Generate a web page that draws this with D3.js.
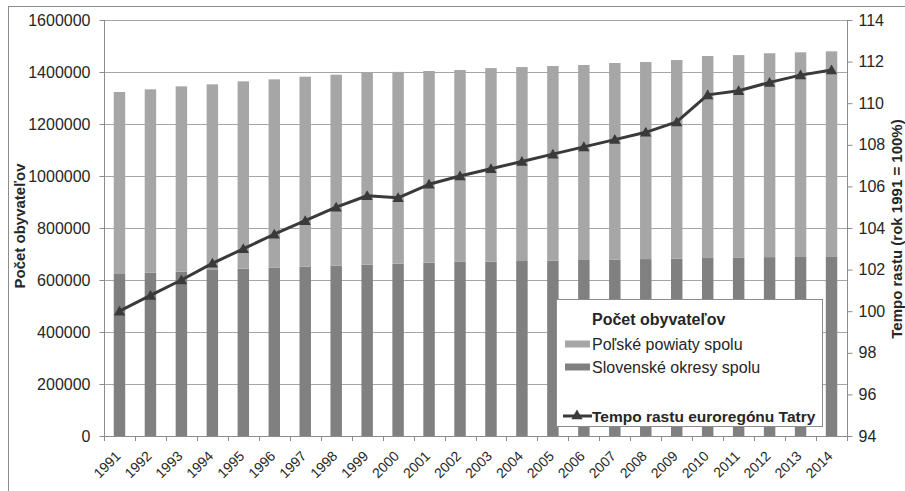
<!DOCTYPE html>
<html lang="sk">
  <head>
    <meta charset="UTF-8" />
    <title>Počet obyvateľov – euroregión Tatry</title>
    <script src="https://cdn.jsdelivr.net/npm/d3@7/dist/d3.min.js"></script>
    <style>
      body { margin: 0; background: #fff; overflow: hidden; }
      text { font-family: "Liberation Sans", Arial, sans-serif; fill: #262626; }
    </style>
  </head>
  <body>
    <script>
      const years = ["1991", "1992", "1993", "1994", "1995", "1996", "1997", "1998",
        "1999", "2000", "2001", "2002", "2003", "2004", "2005", "2006", "2007",
        "2008", "2009", "2010", "2011", "2012", "2013", "2014"];
      const slovak = [623000, 628000, 632000, 641000, 643600, 647000, 651000, 655000,
        659000, 662700, 666600, 670000, 671000, 673000, 674000, 677000, 678000,
        680500, 681500, 684500, 685000, 688000, 688500, 691000];
      const polish = [700000, 705400, 712800, 711500, 720500, 724800, 731000, 734600,
        739600, 737800, 737200, 737700, 744000, 746000, 749000, 750000, 756600,
        757900, 764500, 777000, 780000, 784000, 787200, 788500];
      const tempo = [100.0, 100.76, 101.5, 102.3, 103.0, 103.7, 104.35, 105.0,
        105.55, 105.45, 106.1, 106.5, 106.85, 107.2, 107.55, 107.9, 108.25,
        108.6, 109.1, 110.4, 110.6, 111.0, 111.35, 111.6];
      const leftTicks = [0, 200000, 400000, 600000, 800000, 1000000, 1200000, 1400000, 1600000];
      const rightTicks = [94, 96, 98, 100, 102, 104, 106, 108, 110, 112, 114];

      const width = 905;
      const height = 491;
      const plotL = 104, plotR = 847, plotT = 20, plotB = 436;

      const svg = d3
        .select("body")
        .append("svg")
        .attr("width", width)
        .attr("height", height);

      // ram okolo grafu
      svg.append("rect")
        .attr("x", 8.5).attr("y", 6.5)
        .attr("width", 1000).attr("height", 1000)
        .attr("fill", "none").attr("stroke", "#8c8c8c");

      const x = d3.scaleBand()
        .domain(years)
        .range([plotL, plotR])
        .paddingInner(0.63)
        .paddingOuter(0.315);
      const y = d3.scaleLinear().domain([0, 1600000]).range([plotB, plotT]);
      const y2 = d3.scaleLinear().domain([94, 114]).range([plotB, plotT]);

      // mriežka
      svg.append("g")
        .selectAll("line")
        .data(leftTicks.slice(1))
        .enter()
        .append("line")
        .attr("x1", plotL).attr("x2", plotR)
        .attr("y1", (d) => Math.round(y(d)) + 0.5)
        .attr("y2", (d) => Math.round(y(d)) + 0.5)
        .attr("stroke", "#a6a6a6");

      // stĺpce
      const rows = years.map((yr, i) => ({ year: yr, slovak: slovak[i], polish: polish[i] }));
      const stack = d3.stack().keys(["slovak", "polish"]);
      const colors = { slovak: "#808080", polish: "#a6a6a6" };
      svg.append("g")
        .selectAll("g")
        .data(stack(rows))
        .enter()
        .append("g")
        .attr("fill", (s) => colors[s.key])
        .selectAll("rect")
        .data((s) => s)
        .enter()
        .append("rect")
        .attr("x", (d) => x(d.data.year))
        .attr("width", x.bandwidth())
        .attr("y", (d) => y(d[1]))
        .attr("height", (d) => y(d[0]) - y(d[1]));

      // osi
      const leftAxis = svg.append("g")
        .attr("transform", `translate(${plotL + 0.5},0)`)
        .call(d3.axisLeft(y).tickValues(leftTicks).tickSize(5).tickPadding(9).tickFormat(d3.format("d")));
      const rightAxis = svg.append("g")
        .attr("transform", `translate(${plotR + 0.5},0)`)
        .call(d3.axisRight(y2).tickValues(rightTicks).tickSize(5).tickPadding(6));
      [leftAxis, rightAxis].forEach((g) => {
        g.select(".domain").attr("stroke", "#8c8c8c").attr("d", `M0,${plotT}V${plotB}`);
        g.selectAll(".tick line").attr("stroke", "#8c8c8c");
        g.selectAll(".tick text")
          .attr("fill", "#262626")
          .style("font-family", '"Liberation Sans", Arial, sans-serif')
          .style("font-size", "16px");
      });

      // os x
      const xAxis = svg.append("g");
      xAxis.append("line")
        .attr("x1", plotL).attr("x2", plotR)
        .attr("y1", plotB + 0.5).attr("y2", plotB + 0.5)
        .attr("stroke", "#8c8c8c");
      const bounds = years.map((yr) => x(yr) - x.step() * x.paddingOuter());
      bounds.push(plotR);
      xAxis.selectAll(".xt")
        .data(bounds)
        .enter()
        .append("line")
        .attr("x1", (d) => Math.round(d) + 0.5).attr("x2", (d) => Math.round(d) + 0.5)
        .attr("y1", plotB).attr("y2", plotB + 5)
        .attr("stroke", "#8c8c8c");
      xAxis.selectAll("text")
        .data(years)
        .enter()
        .append("text")
        .attr("transform", (d) => `translate(${x(d) + x.bandwidth() / 2 + 2},457) rotate(-45)`)
        .attr("text-anchor", "end")
        .style("font-size", "14px")
        .text((d) => d);

      // čiara tempa rastu
      const line = d3.line()
        .x((d, i) => x(years[i]) + x.bandwidth() / 2)
        .y((d) => y2(d));
      svg.append("path")
        .datum(tempo)
        .attr("fill", "none")
        .attr("stroke", "#3a3a3a")
        .attr("stroke-width", 3)
        .attr("stroke-linejoin", "round")
        .attr("d", line);
      const tri = d3.symbol().type(d3.symbolTriangle).size(55);
      svg.append("g")
        .selectAll("path")
        .data(tempo)
        .enter()
        .append("path")
        .attr("d", tri)
        .attr("fill", "#3a3a3a")
        .attr("transform", (d, i) => `translate(${x(years[i]) + x.bandwidth() / 2},${y2(d) + 1})`);

      // názvy osí
      svg.append("text")
        .attr("transform", "translate(25,226) rotate(-90)")
        .attr("text-anchor", "middle")
        .style("font-size", "15px")
        .style("font-weight", "bold")
        .text("Počet obyvateľov");
      svg.append("text")
        .attr("transform", "translate(902,229) rotate(-90)")
        .attr("text-anchor", "middle")
        .style("font-size", "15px")
        .style("font-weight", "bold")
        .text("Tempo rastu (rok 1991 = 100%)");

      // legenda
      const legend = svg.append("g");
      legend.append("rect")
        .attr("x", 556.5).attr("y", 299.5)
        .attr("width", 266).attr("height", 127)
        .attr("fill", "#fff").attr("stroke", "#8c8c8c");
      legend.append("text")
        .attr("x", 592).attr("y", 325)
        .style("font-size", "16px").style("font-weight", "bold")
        .text("Počet obyvateľov");
      const items = [
        { label: "Poľské powiaty spolu", color: colors.polish, y: 344 },
        { label: "Slovenské okresy spolu", color: colors.slovak, y: 367 },
      ];
      items.forEach((it) => {
        legend.append("rect")
          .attr("x", 565).attr("y", it.y - 3.5)
          .attr("width", 25).attr("height", 7)
          .attr("fill", it.color);
        legend.append("text")
          .attr("x", 592).attr("y", it.y + 5.5)
          .style("font-size", "16px")
          .text(it.label);
      });
      legend.append("line")
        .attr("x1", 563).attr("x2", 592)
        .attr("y1", 416).attr("y2", 416)
        .attr("stroke", "#3a3a3a").attr("stroke-width", 3);
      legend.append("path")
        .attr("d", tri)
        .attr("fill", "#3a3a3a")
        .attr("transform", "translate(577,416)");
      legend.append("text")
        .attr("x", 592).attr("y", 421.5)
        .style("font-size", "15.5px").style("font-weight", "bold")
        .text("Tempo rastu euroregónu Tatry");
    </script>
  </body>
</html>
